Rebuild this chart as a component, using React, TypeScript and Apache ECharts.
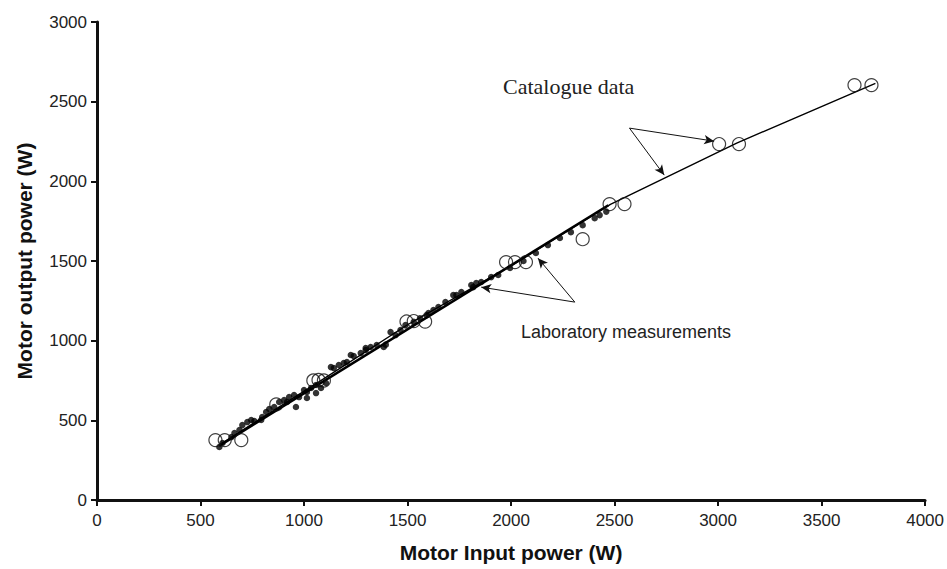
import React, { useEffect, useRef } from "react";
import * as echarts from "echarts";

const xTicks = { min: 0, max: 4000, interval: 500 };
const yTicks = { min: 0, max: 3000, interval: 500 };

const xAxisTitle = "Motor Input power (W)";
const yAxisTitle = "Motor output power (W)";
const catalogueLabel = "Catalogue data";
const labLabel = "Laboratory measurements";

// Catalogue data (open circles): [input W, output W]
const catalogueData: number[][] = [
  [572, 376], [617, 376], [697, 376], [866, 600],
  [1045, 750], [1070, 753], [1096, 750],
  [1495, 1120], [1530, 1123], [1585, 1120],
  [1976, 1493], [2019, 1493], [2072, 1493],
  [2346, 1637], [2476, 1857], [2548, 1857],
  [3005, 2234], [3101, 2234], [3659, 2604], [3741, 2604],
];

// Laboratory measurements (filled dots)
const labData: number[][] = [
  [591, 333], [606, 358], [649, 395], [664, 420], [688, 439], [702, 470],
  [726, 489], [745, 502], [760, 496], [793, 502], [798, 521], [817, 552],
  [832, 571], [856, 584], [880, 615], [904, 627], [918, 615], [928, 646],
  [952, 659], [961, 584], [976, 646], [1000, 690], [1014, 678], [1014, 640],
  [1034, 703], [1058, 722], [1058, 671], [1082, 703], [1106, 734], [1130, 834],
  [1144, 828], [1168, 847], [1192, 860], [1207, 866], [1226, 910], [1240, 903],
  [1274, 922], [1298, 941], [1298, 954], [1322, 960], [1351, 972], [1385, 960],
  [1395, 975], [1418, 1054], [1442, 1035], [1466, 1067], [1490, 1098],
  [1530, 1118], [1560, 1140], [1592, 1160], [1601, 1173], [1625, 1192],
  [1649, 1211], [1683, 1242], [1721, 1286], [1736, 1286], [1760, 1305],
  [1808, 1349], [1817, 1336], [1832, 1361], [1856, 1368], [1904, 1399],
  [1938, 1412], [1995, 1456], [2060, 1500], [2120, 1550], [2178, 1600],
  [2236, 1644], [2289, 1681], [2346, 1725], [2404, 1769], [2428, 1788],
  [2460, 1810],
];

// Trend lines
const catalogueTrend: number[][] = [
  [590, 345], [1070, 740], [1500, 1100], [2000, 1470], [2480, 1855],
  [3090, 2240], [3760, 2615],
];
const labTrend: number[][] = [[590, 340], [2470, 1850]];

// Annotation arrows (data coordinates): [from, to]
const catalogueArrows: number[][][] = [
  [[2572, 2334], [2981, 2252]],
  [[2572, 2334], [2740, 2039]],
];
const labArrows: number[][][] = [
  [[2308, 1242], [1856, 1336]],
  [[2308, 1242], [2130, 1518]],
];

const SANS = "'Liberation Sans', Arial, Helvetica, sans-serif";
const SERIF = "'Liberation Serif', 'Times New Roman', serif";

export default function App() {
  const ref = useRef<HTMLDivElement>(null);

  useEffect(() => {
    document.body.style.margin = "0";
    if (!ref.current) return;
    const chart = echarts.init(ref.current, undefined, { renderer: "svg" });
    const arrows = [...catalogueArrows, ...labArrows].map((a) => [
      { coord: a[0] },
      { coord: a[1] },
    ]);
    const fmt = (v: number) => String(v);
    chart.setOption({
      animation: false,
      backgroundColor: "#ffffff",
      grid: { left: 97, right: 17, top: 22, bottom: 69 },
      xAxis: {
        type: "value",
        min: xTicks.min,
        max: xTicks.max,
        interval: xTicks.interval,
        name: xAxisTitle,
        nameLocation: "middle",
        nameGap: 42,
        nameTextStyle: { fontFamily: SANS, fontWeight: "bold", fontSize: 21, color: "#111" },
        axisLine: { show: true, onZero: false, lineStyle: { color: "#111", width: 3 } },
        axisTick: { show: true, inside: false, length: 6, lineStyle: { color: "#111", width: 2 } },
        axisLabel: { fontFamily: SANS, fontSize: 17, color: "#222", margin: 12, formatter: fmt },
        splitLine: { show: false },
      },
      yAxis: {
        type: "value",
        min: yTicks.min,
        max: yTicks.max,
        interval: yTicks.interval,
        name: yAxisTitle,
        nameLocation: "middle",
        nameGap: 62,
        nameTextStyle: { fontFamily: SANS, fontWeight: "bold", fontSize: 21, color: "#111" },
        axisLine: { show: true, onZero: false, lineStyle: { color: "#111", width: 3 } },
        axisTick: { show: true, inside: false, length: 6, lineStyle: { color: "#111", width: 2 } },
        axisLabel: { fontFamily: SANS, fontSize: 17, color: "#222", margin: 10, formatter: fmt },
        splitLine: { show: false },
      },
      series: [
        {
          name: "catalogueTrend",
          type: "line",
          data: catalogueTrend,
          showSymbol: false,
          symbol: "none",
          silent: true,
          lineStyle: { color: "#000", width: 1.4 },
          z: 2,
          markLine: {
            silent: true,
            symbol: ["none", "arrow"],
            symbolSize: [7, 10],
            label: { show: false },
            lineStyle: { color: "#111", width: 1, type: "solid" },
            data: arrows,
          },
        },
        {
          name: "labTrend",
          type: "line",
          data: labTrend,
          showSymbol: false,
          symbol: "none",
          silent: true,
          lineStyle: { color: "#000", width: 2.6 },
          z: 2,
        },
        {
          name: "Laboratory measurements",
          type: "scatter",
          data: labData,
          symbol: "circle",
          symbolSize: 6.5,
          itemStyle: { color: "#000" },
          z: 3,
        },
        {
          name: "Catalogue data",
          type: "scatter",
          data: catalogueData,
          symbol: "circle",
          symbolSize: 13,
          itemStyle: { color: "rgba(0,0,0,0)", borderColor: "#111", borderWidth: 1.2 },
          z: 4,
        },
      ],
      graphic: [
        {
          type: "text",
          left: 503,
          top: 75,
          style: { text: catalogueLabel, fontFamily: SERIF, fontSize: 22, fill: "#222" },
        },
        {
          type: "text",
          left: 521,
          top: 323,
          style: { text: labLabel, fontFamily: SANS, fontSize: 18, fill: "#222" },
        },
      ],
    });
    return () => chart.dispose();
  }, []);

  return (
    <div
      ref={ref}
      style={{ position: "absolute", left: 0, top: 0, width: 947, height: 569, background: "#fff" }}
    />
  );
}
